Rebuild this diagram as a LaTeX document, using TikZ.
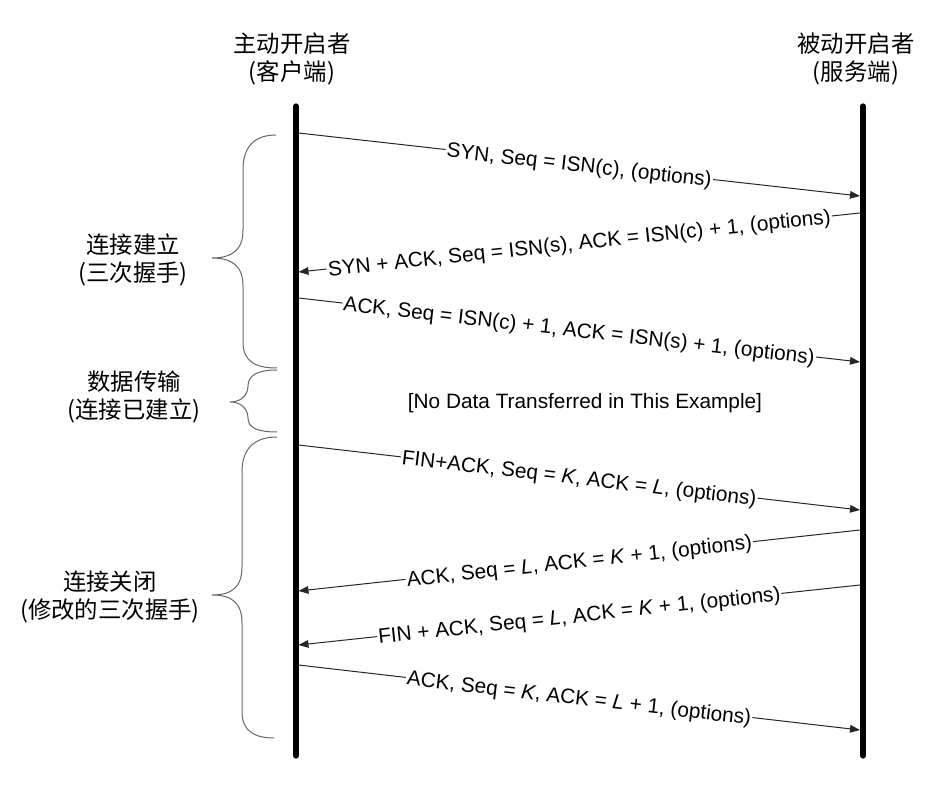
\documentclass[tikz,border=0pt]{standalone}
\usepackage{fontspec}
\setmainfont{Liberation Sans}
\newfontfamily\cjk{Noto Sans CJK SC}
\usetikzlibrary{arrows.meta}
\begin{document}
\begin{tikzpicture}[x=0.5pt,y=-0.5pt,
  lifeline/.style={line width=2.6pt,line cap=round},
  msg/.style={line width=0.5pt,draw=black!85,-{Triangle[length=5pt,width=3.8pt]}},
  lbl/.style={sloped,fill=white,inner sep=0.6pt,yshift=-1pt,font=\fontsize{10.4}{12}\selectfont},
  head/.style={font=\cjk\fontsize{11.7}{14}\selectfont,align=center,inner sep=0pt},
  phase/.style={font=\cjk\fontsize{11.7}{14.2}\selectfont,align=center,inner sep=0pt},
  bracestyle/.style={draw=black!60,line width=0.5pt},
  note/.style={font=\fontsize{10.4}{12}\selectfont,inner sep=1pt}]
\useasboundingbox (0,0) rectangle (928,792);

% headers
\node[head] (hc) at (292,59) {主动开启者\\(客户端)};
\node[head] (hs) at (856,59) {被动开启者\\(服务端)};

% lifelines
\coordinate (ctop) at (296,106);
\coordinate (cbot) at (296,756);
\coordinate (stop) at (863,106);
\coordinate (sbot) at (863,756);
\draw[lifeline] (ctop) -- (cbot);
\draw[lifeline] (stop) -- (sbot);

% message end points
\coordinate (c1) at (298.5,133);
\coordinate (s1) at (860,196);
\coordinate (s2) at (860,213);
\coordinate (c2) at (298.5,272);
\coordinate (c3) at (298.5,298);
\coordinate (s3) at (860,362);
\coordinate (c4) at (298.5,445);
\coordinate (s4) at (860,510);
\coordinate (s5) at (860,530);
\coordinate (c5) at (298.5,591);
\coordinate (s6) at (860,585);
\coordinate (c6) at (298.5,645);
\coordinate (c7) at (298.5,665);
\coordinate (s7) at (860,730);

\draw[msg] (c1) -- node[lbl] {SYN, Seq = ISN(c), (options)} (s1);
\draw[msg] (s2) -- node[lbl] {SYN + ACK, Seq = ISN(s), ACK = ISN(c) + 1, (options)} (c2);
\draw[msg] (c3) -- node[lbl] {ACK, Seq = ISN(c) + 1, ACK = ISN(s) + 1, (options)} (s3);
\draw[msg] (c4) -- node[lbl] {FIN+ACK, Seq = \textit{K}, ACK = \textit{L}, (options)} (s4);
\draw[msg] (s5) -- node[lbl] {ACK, Seq = \textit{L}, ACK = \textit{K} + 1, (options)} (c5);
\draw[msg] (s6) -- node[lbl] {FIN + ACK, Seq = \textit{L}, ACK = \textit{K} + 1, (options)} (c6);
\draw[msg] (c7) -- node[lbl] {ACK, Seq = \textit{K}, ACK = \textit{L} + 1, (options)} (s7);

\node[note] (nodata) at (585,403) {[No Data Transferred in This Example]};

% phase labels
\node[phase] (p1) at (133,260) {连接建立\\(三次握手)};
\node[phase] (p2) at (134,397) {数据传输\\(连接已建立)};
\node[phase] (p3) at (110,597) {连接关闭\\(修改的三次握手)};

% braces
\draw[bracestyle] (276,135) .. controls (256,135) and (243,145) .. (243,170)
  -- (243,230) .. controls (243,250) and (232,258) .. (212,258)
  .. controls (232,258) and (243,266) .. (243,286)
  -- (243,342) .. controls (243,362) and (256,368) .. (277,368);
\draw[bracestyle] (277,370) .. controls (258,370) and (248,375) .. (248,386)
  .. controls (248,396) and (240,402) .. (230,402)
  .. controls (240,402) and (248,408) .. (248,418)
  .. controls (248,428) and (258,432) .. (277,432);
\draw[bracestyle] (277,437) .. controls (256,437) and (242,447) .. (242,472)
  -- (242,567) .. controls (242,587) and (232,595) .. (212,595)
  .. controls (232,595) and (242,603) .. (242,623)
  -- (242,712) .. controls (242,732) and (256,738) .. (274,738);
\end{tikzpicture}
\end{document}
